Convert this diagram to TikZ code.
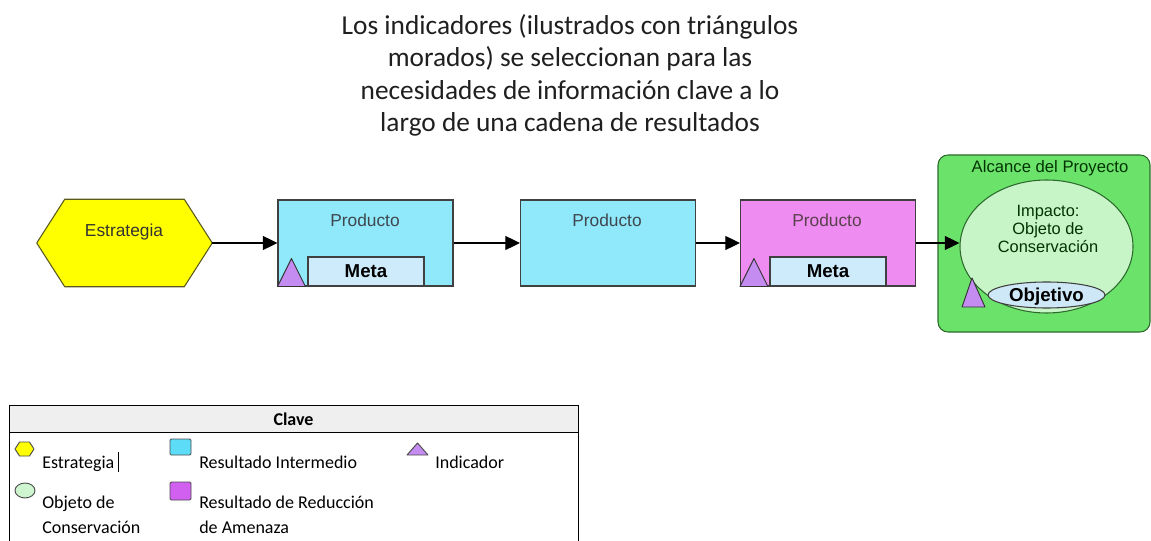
\documentclass[tikz,border=0pt]{standalone}
\usepackage{fontspec}
\setmainfont{Liberation Sans}
\newfontfamily\calfont{Carlito}
\usetikzlibrary{arrows.meta,shapes.geometric}
\definecolor{hexY}{HTML}{FFFF00}
\definecolor{hexS}{HTML}{5A5A1E}
\definecolor{cyanB}{HTML}{8FE9FB}
\definecolor{pinkB}{HTML}{EE8CF2}
\definecolor{metaB}{HTML}{CDEBFA}
\definecolor{triF}{HTML}{C48CF0}
\definecolor{greenB}{HTML}{6BE36B}
\definecolor{greenS}{HTML}{2D6B2D}
\definecolor{ellF}{HTML}{C8F5C8}
\definecolor{objF}{HTML}{CFE8F8}
\definecolor{keyBlue}{HTML}{5DDCF8}
\definecolor{keyPurple}{HTML}{D160F0}
\definecolor{keyGreen}{HTML}{CFF5D0}
\definecolor{hdrGray}{HTML}{EFEFEF}
\begin{document}
\begin{tikzpicture}[x=0.75pt,y=-0.75pt,
  arr/.style={draw=black, line width=1pt, -{Triangle[length=11pt,width=10.5pt]}},
  prod/.style={draw=black!75, line width=0.8pt, minimum width=131.25pt, minimum height=64.5pt, inner sep=0pt},
  metabox/.style={draw=black!75, fill=metaB, line width=0.8pt, minimum width=87pt, minimum height=21.75pt, inner sep=0pt, font=\bfseries\fontsize{14}{16}\selectfont},
  tri/.style={draw=black!80, fill=triF, line width=0.7pt, line join=round},
  lbl/.style={inner sep=0pt, anchor=base, font=\fontsize{13}{15}\selectfont},
  keytxt/.style={inner sep=0pt, anchor=base west, font=\calfont\fontsize{13.5}{18.75}\selectfont, align=left},
  keyicon/.style={line width=0.7pt, draw=black!70}
]
\useasboundingbox (0,0) rectangle (1151,541);

% Title (anchor base = last line's baseline)
\node[font=\calfont\fontsize{20.5}{24.4}\selectfont, align=center, anchor=base, inner sep=0pt, text=black!88] (title) at (570,132)
  {Los indicadores (ilustrados con triángulos\\morados) se seleccionan para las\\necesidades de información clave a lo\\largo de una cadena de resultados};

% Strategy hexagon
\node[minimum width=131.25pt, minimum height=65.25pt, inner sep=0pt] (est) at (124.5,243) {};
\filldraw[fill=hexY, draw=hexS, line width=0.8pt, line join=round]
  (est.west) -- ([xshift=21pt]est.north west) -- ([xshift=-21pt]est.north east) -- (est.east)
  -- ([xshift=-21pt]est.south east) -- ([xshift=21pt]est.south west) -- cycle;
\node[lbl, text=black!80] (estT) at (124,237) {Estrategia};

% Boxes
\node[prod, fill=cyanB] (b1) at (365.5,243) {};
\node[prod, fill=cyanB] (b2) at (608,243) {};
\node[prod, fill=pinkB] (b3) at (828,243) {};
\node[lbl, text=black!80!cyan] (b1T) at (365,227) {Producto};
\node[lbl, text=black!80!cyan] (b2T) at (607,227) {Producto};
\node[lbl, text=black!75!magenta] (b3T) at (827,227) {Producto};
\node[metabox] (m1) at (366,271.5) {Meta};
\node[metabox] (m3) at (828,271.5) {Meta};
\draw[tri] (b1.south west) -- ++(28,0) -- ++(-14,-28) -- cycle;
\draw[tri] (b3.south west) -- ++(28,0) -- ++(-14,-28) -- cycle;

% Project scope
\node[draw=greenS, fill=greenB, line width=0.8pt, rounded corners=7.5pt, minimum width=159pt, minimum height=132.75pt, inner sep=0pt] (scope) at (1044,243.5) {};
\node[lbl, font=\fontsize{12.5}{14}\selectfont, text=black!80!green] (scopeT) at (1050,173) {Alcance del Proyecto};
\node[ellipse, draw=greenS, fill=ellF, line width=0.8pt, minimum width=129.75pt, minimum height=99.75pt, inner sep=0pt] (imp) at (1046.5,246.5) {};
\node[lbl, font=\fontsize{12.3}{13.5}\selectfont, align=center, text=black!80!green] (impT) at (1048,253) {Impacto:\\Objeto de\\Conservación};
\node[ellipse, draw=black!75, fill=objF, line width=0.8pt, minimum width=87.75pt, minimum height=19.5pt, inner sep=0pt, text depth=0pt, font=\bfseries\fontsize{14}{16}\selectfont] (obj) at (1046.5,295) {Objetivo};
\coordinate (gtri) at (962,307);
\draw[tri] (gtri) -- ++(23,0) -- ++(-13,-29) -- cycle;

% Connectors
\draw[arr] (est.east) -- (b1.west);
\draw[arr] (b1.east) -- (b2.west);
\draw[arr] (b2.east) -- (b3.west);
\draw[arr] (b3.east) -- (b3.east -| imp.west);

% Key table
\fill[hdrGray] (9,405) rectangle (578,432);
\draw[line width=0.7pt] (9,545) -- (9,405) -- (578,405) -- (578,545);
\draw[line width=0.7pt] (9,432) -- (578,432);
\node[inner sep=0pt, anchor=base, font=\calfont\bfseries\fontsize{13.5}{16}\selectfont] (keyT) at (293.5,425) {Clave};

% Key icons
\filldraw[keyicon, fill=hexY, line join=round] (15,449) -- (19.5,442) -- (29.5,442) -- (34,449) -- (29.5,456) -- (19.5,456) -- cycle;
\filldraw[keyicon, fill=keyBlue, rounded corners=1pt] (170,439) rectangle (191,455);
\filldraw[keyicon, fill=triF, line join=round] (407,455) -- (428,455) -- (417.5,443) -- cycle;
\filldraw[keyicon, fill=keyGreen] (25,490.5) ellipse [x radius=7.5pt, y radius=5.6pt];
\filldraw[keyicon, fill=keyPurple, rounded corners=1pt] (170,482) rectangle (191,500);

% Key texts
\node[keytxt] (k1) at (42,468) {Estrategia};
\draw[line width=0.6pt] (118,452) -- (118,472);
\node[keytxt] (k2) at (199,468) {Resultado Intermedio};
\node[keytxt] (k3) at (435,468) {Indicador};
\node[keytxt] (k4) at (42,533) {Objeto de\\Conservación};
\node[keytxt] (k5) at (199,533) {Resultado de Reducción\\de Amenaza};
\end{tikzpicture}
\end{document}
